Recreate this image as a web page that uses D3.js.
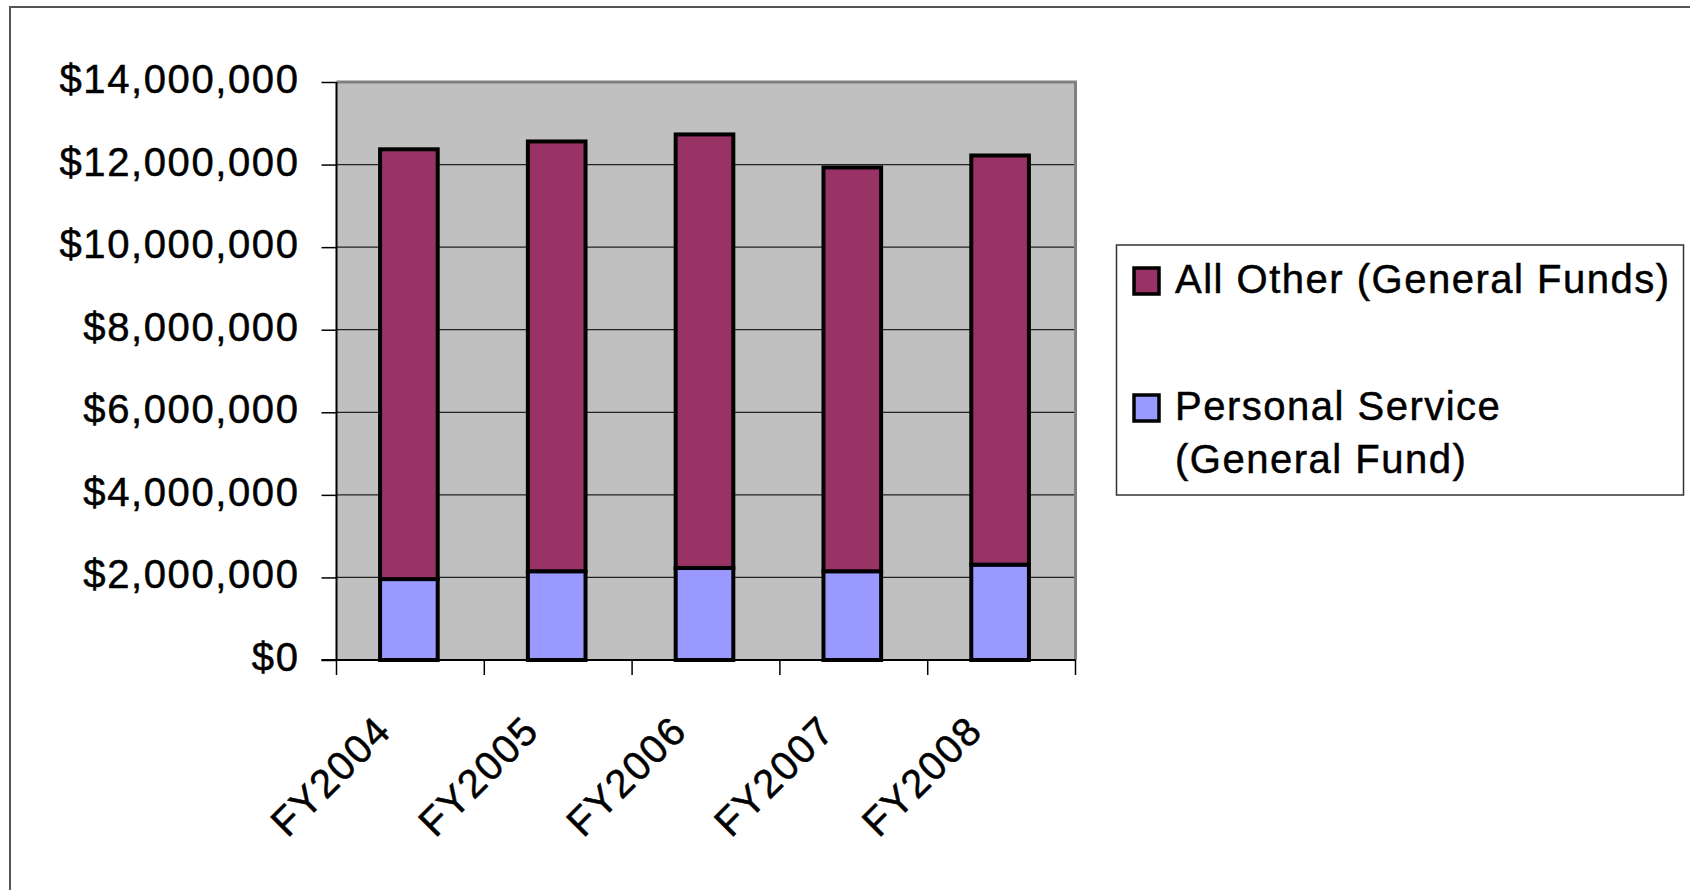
<!DOCTYPE html>
<html>
<head>
<meta charset="utf-8">
<script src="https://cdn.jsdelivr.net/npm/d3@7"></script>
<style>
  html, body { margin: 0; padding: 0; background: #fff; }
  svg { display: block; font-family: "Liberation Sans", Arial, sans-serif; }
  .lbl { font-size: 40px; letter-spacing: 1.6px; fill: #000; stroke: #000; stroke-width: 0.5px; }
</style>
</head>
<body>
<svg id="chart"></svg>
<script>
// Chart data
const categories = ["FY2004", "FY2005", "FY2006", "FY2007", "FY2008"];
const personalService = [1960000, 2150000, 2230000, 2150000, 2310000];
const allOther = [10410000, 10410000, 10500000, 9780000, 9910000];
const yTicks = [0, 2000000, 4000000, 6000000, 8000000, 10000000, 12000000, 14000000];
const seriesNames = ["Personal Service", "All Other"];
const legendItems = [
  { lines: ["All Other (General Funds)"], color: "#993366" },
  { lines: ["Personal Service", "(General Fund)"], color: "#9999FF" }
];

const width = 1690, height = 890;
const plot = { left: 336.5, right: 1075.5, top: 82, bottom: 660 };
const colors = { "Personal Service": "#9999FF", "All Other": "#993366" };

const svg = d3.select("#chart").attr("width", width).attr("height", height);

// Outer chart border (right and bottom edges fall off the canvas)
svg.append("rect")
  .attr("x", 10).attr("y", 7)
  .attr("width", 1690).attr("height", 900)
  .attr("fill", "none")
  .attr("stroke", "#555")
  .attr("stroke-width", 2);

const rows = categories.map((c, i) => ({
  cat: c,
  "Personal Service": personalService[i],
  "All Other": allOther[i]
}));
const stacked = d3.stack().keys(seriesNames)(rows);

const x = d3.scaleBand().domain(categories).range([plot.left, plot.right]).padding(0);
const y = d3.scaleLinear().domain([0, 14000000]).range([plot.bottom, plot.top]);

// Plot background
svg.append("rect")
  .attr("x", plot.left).attr("y", plot.top)
  .attr("width", plot.right - plot.left)
  .attr("height", plot.bottom - plot.top)
  .attr("fill", "#C0C0C0");

// Gridlines
svg.append("g")
  .selectAll("line")
  .data(yTicks.filter(d => d > 0 && d < 14000000))
  .enter()
  .append("line")
  .attr("x1", plot.left).attr("x2", plot.right)
  .attr("y1", d => y(d)).attr("y2", d => y(d))
  .attr("stroke", "#222")
  .attr("stroke-width", 1.3);

// Top and right plot border (grey)
svg.append("path")
  .attr("d", `M${plot.left},${plot.top}H${plot.right}V${plot.bottom}`)
  .attr("fill", "none")
  .attr("stroke", "#808080")
  .attr("stroke-width", 3);

// Bars
const barFrac = 0.39;
svg.append("g")
  .selectAll("g")
  .data(stacked)
  .enter()
  .append("g")
  .attr("fill", d => colors[d.key])
  .selectAll("rect")
  .data(d => d)
  .enter()
  .append("rect")
  .attr("x", d => x(d.data.cat) + x.bandwidth() * (1 - barFrac) / 2 - 1.5)
  .attr("width", x.bandwidth() * barFrac)
  .attr("y", d => y(d[1]))
  .attr("height", d => y(d[0]) - y(d[1]))
  .attr("stroke", "#000")
  .attr("stroke-width", 4);

// Y axis
const yAxis = svg.append("g")
  .attr("transform", `translate(${plot.left},0)`)
  .call(d3.axisLeft(y).tickValues(yTicks).tickSize(15).tickPadding(22)
    .tickFormat(d => "$" + d3.format(",")(d)));
yAxis.select(".domain").attr("stroke", "#000").attr("stroke-width", 2).attr("d", `M0,${plot.top}V${plot.bottom}`);
yAxis.selectAll(".tick line").attr("stroke", "#000").attr("stroke-width", 1.5);
yAxis.selectAll(".tick text")
  .attr("class", "lbl")
  .attr("font-size", null)
  .attr("dy", "10.5");
yAxis.attr("font-size", null).attr("font-family", null);

// X axis
const xAxis = svg.append("g")
  .attr("transform", `translate(0,${plot.bottom})`)
  .call(d3.axisBottom(x).tickSize(0).tickFormat(""));
xAxis.select(".domain").attr("stroke", "#000").attr("stroke-width", 2).attr("d", `M${plot.left - 15},0H${plot.right}`);

// Category boundary ticks
svg.append("g")
  .selectAll("line")
  .data(categories.concat(["end"]))
  .enter()
  .append("line")
  .attr("x1", (d, i) => plot.left + i * x.step())
  .attr("x2", (d, i) => plot.left + i * x.step())
  .attr("y1", plot.bottom).attr("y2", plot.bottom + 15)
  .attr("stroke", "#000")
  .attr("stroke-width", 1.5);

// Rotated category labels
svg.append("g")
  .selectAll("text")
  .data(categories)
  .enter()
  .append("text")
  .attr("class", "lbl")
  .attr("transform", d => `translate(${x(d) + x.bandwidth() / 2 - 17},733) rotate(-45)`)
  .attr("text-anchor", "end")
  .text(d => d);

// Legend
const legend = svg.append("g");
legend.append("rect")
  .attr("x", 1116.5).attr("y", 245)
  .attr("width", 567).attr("height", 250)
  .attr("fill", "#fff")
  .attr("stroke", "#333")
  .attr("stroke-width", 1.5);

const legendY = [293, 420];
const item = legend.selectAll("g.item")
  .data(legendItems)
  .enter()
  .append("g")
  .attr("class", "item");

item.append("rect")
  .attr("x", 1134).attr("y", (d, i) => legendY[i] - 25)
  .attr("width", 25).attr("height", 26)
  .attr("fill", d => d.color)
  .attr("stroke", "#000")
  .attr("stroke-width", 3.5);

item.append("text")
  .attr("class", "lbl")
  .attr("x", 1175)
  .attr("y", (d, i) => legendY[i])
  .style("letter-spacing", "1.5px")
  .selectAll("tspan")
  .data(d => d.lines)
  .enter()
  .append("tspan")
  .attr("x", 1175)
  .attr("dy", (d, i) => (i === 0 ? 0 : 53))
  .text(d => d);
</script>
</body>
</html>
